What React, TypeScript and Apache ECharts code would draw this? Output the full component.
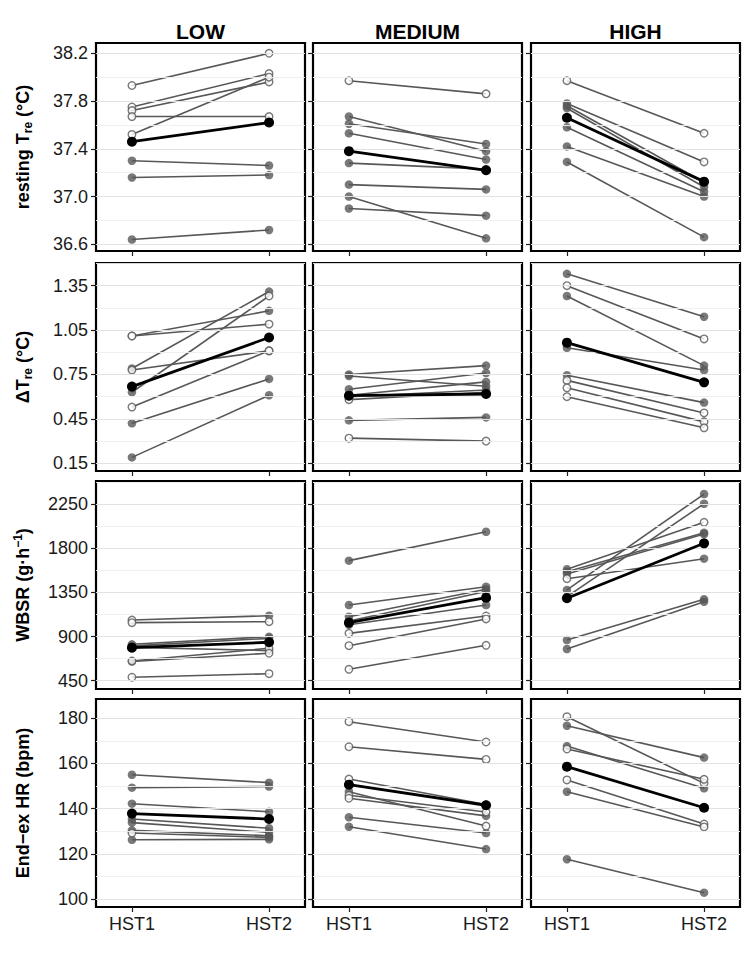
import React, { useEffect, useRef } from 'react';
import * as echarts from 'echarts';

// ---------------- data ----------------
const sessions = ['HST1', 'HST2'];
const intensities = ['LOW', 'MEDIUM', 'HIGH'];

// tick labels per row
const treTicks = [36.6, 37.0, 37.4, 37.8, 38.2];
const dTreTicks = [0.15, 0.45, 0.75, 1.05, 1.35];
const wbsrTicks = [450, 900, 1350, 1800, 2250];
const hrTicks = [100, 120, 140, 160, 180];

// resting Tre (°C)
const treLow1 = [37.93, 37.75, 37.72, 37.67, 37.52, 37.30, 37.16, 36.64];
const treLow2 = [38.20, 38.03, 37.96, 37.67, 38.00, 37.26, 37.18, 36.72];
const treLowOpen1 = [1, 1, 1, 1, 1, 0, 0, 0];
const treLowOpen2 = [1, 1, 1, 1, 1, 0, 0, 0];
const treMed1 = [37.97, 37.67, 37.61, 37.53, 37.28, 37.10, 37.00, 36.90];
const treMed2 = [37.86, 37.38, 37.44, 37.31, 37.23, 37.06, 36.65, 36.84];
const treMedOpen1 = [1, 0, 0, 0, 0, 0, 0, 0];
const treMedOpen2 = [1, 0, 0, 0, 0, 0, 0, 0];
const treHigh1 = [37.97, 37.78, 37.76, 37.74, 37.58, 37.42, 37.29];
const treHigh2 = [37.53, 37.29, 37.12, 37.08, 37.04, 37.00, 36.66];
const treHighOpen1 = [1, 0, 0, 0, 0, 0, 0];
const treHighOpen2 = [1, 1, 0, 0, 0, 0, 0];
const treMean = [[37.46, 37.62], [37.38, 37.22], [37.66, 37.125]];

// ΔTre (°C)
const dLow1 = [1.01, 1.01, 0.79, 0.78, 0.63, 0.53, 0.42, 0.19];
const dLow2 = [1.18, 1.09, 1.31, 0.91, 1.28, 0.91, 0.72, 0.61];
const dLowOpen1 = [1, 1, 0, 1, 0, 1, 0, 0];
const dLowOpen2 = [0, 1, 0, 1, 1, 1, 0, 0];
const dMed1 = [0.75, 0.74, 0.65, 0.61, 0.60, 0.58, 0.44, 0.32];
const dMed2 = [0.81, 0.67, 0.76, 0.70, 0.645, 0.63, 0.46, 0.30];
const dMedOpen1 = [0, 0, 0, 0, 0, 1, 0, 1];
const dMedOpen2 = [0, 0, 0, 0, 0, 0, 0, 1];
const dHigh1 = [1.43, 1.35, 1.28, 0.93, 0.745, 0.71, 0.66, 0.60];
const dHigh2 = [1.14, 0.99, 0.81, 0.78, 0.56, 0.49, 0.43, 0.39];
const dHighOpen1 = [0, 1, 0, 0, 0, 1, 1, 1];
const dHighOpen2 = [0, 1, 0, 0, 0, 1, 1, 1];
const dMean = [[0.668, 1.0], [0.607, 0.618], [0.965, 0.697]];

// WBSR (g·h-1)
const wLow1 = [1069, 1042, 821, 805, 790, 651, 645, 485];
const wLow2 = [1113, 1052, 899, 882, 757, 781, 730, 521];
const wLowOpen1 = [1, 1, 0, 0, 0, 1, 0, 1];
const wLowOpen2 = [0, 1, 0, 0, 0, 1, 1, 1];
const wMed1 = [1675, 1222, 1103, 1060, 1020, 933, 807, 566];
const wMed2 = [1970, 1409, 1383, 1360, 1222, 1110, 1080, 811];
const wMedOpen1 = [0, 0, 0, 0, 0, 1, 1, 1];
const wMedOpen2 = [0, 0, 0, 0, 0, 1, 1, 1];
const wHigh1 = [1587, 1562, 1539, 1491, 1376, 1307, 865, 773];
const wHigh2 = [2066, 1960, 1947, 1695, 2355, 2256, 1281, 1256];
const wHighOpen1 = [0, 0, 0, 1, 0, 0, 0, 0];
const wHighOpen2 = [1, 0, 0, 0, 0, 0, 0, 0];
const wMean = [[787, 842], [1042, 1297], [1291, 1852]];

// End-ex HR (bpm)
const hrLow1 = [155.0, 149.3, 142.2, 135.4, 133.8, 130.4, 129.2, 126.2];
const hrLow2 = [151.5, 149.8, 138.6, 131.3, 129.5, 128.0, 127.3, 126.4];
const hrLowOpen1 = [0, 0, 0, 0, 0, 0, 1, 0];
const hrLowOpen2 = [0, 0, 0, 0, 0, 0, 0, 0];
const hrMed1 = [178.5, 167.4, 153.1, 147.5, 145.9, 144.6, 136.2, 132.0];
const hrMed2 = [169.5, 161.8, 141.8, 132.3, 138.5, 136.8, 129.2, 122.1];
const hrMedOpen1 = [1, 1, 1, 0, 1, 1, 0, 0];
const hrMedOpen2 = [1, 1, 0, 1, 1, 0, 0, 0];
const hrHigh1 = [180.7, 176.7, 167.7, 166.4, 152.7, 147.5, 117.6];
const hrHigh2 = [151.2, 162.6, 149.0, 153.0, 133.2, 131.9, 102.8];
const hrHighOpen1 = [1, 0, 0, 1, 1, 0, 0];
const hrHighOpen2 = [1, 0, 0, 1, 1, 1, 0];
const hrMean = [[137.8, 135.4], [150.6, 141.5], [158.6, 140.4]];

// ---------------- layout / style ----------------
const FONT = '"Liberation Sans", Arial, Helvetica, sans-serif';
const colLeft = [96, 313, 531];
const rowTop = [43, 263, 481, 699];
const PW = 209;
const PH = 208;
const X_MIN = -0.262;
const X_MAX = 1.262;
const GREY = '#575757';

type Panel = { h1: number[]; h2: number[]; o1: number[]; o2: number[]; m: number[] };
type Row = { ticks: number[]; min: number; max: number; dec: number; name: string; panels: Panel[] };

const rows: Row[] = [
  {
    ticks: treTicks, min: 36.544, max: 38.286, dec: 1,
    name: '{b|resting T}{s|re}{b| (°C)}',
    panels: [
      { h1: treLow1, h2: treLow2, o1: treLowOpen1, o2: treLowOpen2, m: treMean[0] },
      { h1: treMed1, h2: treMed2, o1: treMedOpen1, o2: treMedOpen2, m: treMean[1] },
      { h1: treHigh1, h2: treHigh2, o1: treHighOpen1, o2: treHighOpen2, m: treMean[2] },
    ],
  },
  {
    ticks: dTreTicks, min: 0.098, max: 1.503, dec: 2,
    name: '{b|ΔT}{s|re}{b| (°C)}',
    panels: [
      { h1: dLow1, h2: dLow2, o1: dLowOpen1, o2: dLowOpen2, m: dMean[0] },
      { h1: dMed1, h2: dMed2, o1: dMedOpen1, o2: dMedOpen2, m: dMean[1] },
      { h1: dHigh1, h2: dHigh2, o1: dHighOpen1, o2: dHighOpen2, m: dMean[2] },
    ],
  },
  {
    ticks: wbsrTicks, min: 365, max: 2488, dec: 0,
    name: '{b|WBSR (g·h}{p|−1}{b|)}',
    panels: [
      { h1: wLow1, h2: wLow2, o1: wLowOpen1, o2: wLowOpen2, m: wMean[0] },
      { h1: wMed1, h2: wMed2, o1: wMedOpen1, o2: wMedOpen2, m: wMean[1] },
      { h1: wHigh1, h2: wHigh2, o1: wHighOpen1, o2: wHighOpen2, m: wMean[2] },
    ],
  },
  {
    ticks: hrTicks, min: 96.46, max: 188.54, dec: 0,
    name: '{b|End−ex HR (bpm)}',
    panels: [
      { h1: hrLow1, h2: hrLow2, o1: hrLowOpen1, o2: hrLowOpen2, m: hrMean[0] },
      { h1: hrMed1, h2: hrMed2, o1: hrMedOpen1, o2: hrMedOpen2, m: hrMean[1] },
      { h1: hrHigh1, h2: hrHigh2, o1: hrHighOpen1, o2: hrHighOpen2, m: hrMean[2] },
    ],
  },
];

function minorLines(ticks: number[], min: number, max: number): number[] {
  const step = ticks[1] - ticks[0];
  const out: number[] = [];
  const cand = [ticks[0] - step / 2, ...ticks.map((t) => t + step / 2)];
  cand.forEach((v) => {
    if (v > min && v < max) out.push(v);
  });
  return out;
}

function buildOption() {
  const grid: any[] = [];
  const xAxis: any[] = [];
  const yAxis: any[] = [];
  const series: any[] = [];

  const openStyle = { color: '#ffffff', borderColor: GREY, borderWidth: 1.4 };
  const filledStyle = { color: GREY, borderColor: GREY, borderWidth: 0 };

  rows.forEach((row, r) => {
    row.panels.forEach((p, c) => {
      const idx = r * 3 + c;
      grid.push({
        left: colLeft[c], top: rowTop[r], width: PW, height: PH,
        show: true, backgroundColor: '#ffffff', borderColor: '#000000', borderWidth: 2.2,
        containLabel: false, outerBoundsMode: 'none',
      });
      xAxis.push({
        type: 'value', gridIndex: idx, min: X_MIN, max: X_MAX, position: 'bottom',
        axisLine: { show: false, onZero: false },
        axisTick: { show: true, customValues: [0, 1], length: 5, lineStyle: { color: '#222', width: 1.2 } },
        axisLabel: {
          show: r === rows.length - 1, customValues: [0, 1], margin: 8,
          formatter: (v: number) => sessions[Math.round(v)] ?? '',
          fontSize: 18, color: '#1a1a1a', fontFamily: FONT,
        },
        splitLine: { show: false },
      });
      yAxis.push({
        type: 'value', gridIndex: idx, min: row.min, max: row.max, position: 'left',
        axisLine: { show: false, onZero: false },
        axisTick: { show: true, customValues: row.ticks, length: 5, lineStyle: { color: '#222', width: 1.2 } },
        axisLabel: {
          show: c === 0, customValues: row.ticks, margin: 8,
          formatter: (v: number) => v.toFixed(row.dec),
          fontSize: 18, color: '#1a1a1a', fontFamily: FONT,
        },
        splitLine: { show: false },
        name: c === 0 ? row.name : '',
        nameLocation: 'middle', nameRotate: 90, nameGap: 62, nameMoveOverlap: false,
        nameTextStyle: {
          fontFamily: FONT,
          rich: {
            b: { fontSize: 18, fontWeight: 'bold', color: '#000', lineHeight: 22, fontFamily: FONT },
            s: { fontSize: 12, fontWeight: 'bold', color: '#000', lineHeight: 11, verticalAlign: 'bottom', fontFamily: FONT },
            p: { fontSize: 12, fontWeight: 'bold', color: '#000', lineHeight: 10, verticalAlign: 'top', fontFamily: FONT },
          },
        },
      });
      // grid lines
      series.push({
        type: 'line', xAxisIndex: idx, yAxisIndex: idx, data: [], z: 1, silent: true,
        markLine: {
          silent: true, symbol: ['none', 'none'], label: { show: false }, animation: false,
          data: [
            ...row.ticks.map((v) => ({ yAxis: v, lineStyle: { color: '#e2e2e2', width: 1.2, type: 'solid' } })),
            ...minorLines(row.ticks, row.min, row.max).map((v) => ({ yAxis: v, lineStyle: { color: '#eeeeee', width: 0.9, type: 'solid' } })),
          ],
        },
      });
      // individual lines
      p.h1.forEach((v, k) => {
        series.push({
          type: 'line', xAxisIndex: idx, yAxisIndex: idx, silent: true, z: 3,
          symbol: 'none', showSymbol: false,
          data: [[0, v], [1, p.h2[k]]],
          lineStyle: { color: GREY, width: 1.6 },
        });
      });
      // individual points
      const pts: any[] = [];
      p.h1.forEach((v, k) => {
        const o = p.o1[k] === 1;
        pts.push({ value: [0, v], itemStyle: o ? openStyle : filledStyle, symbolSize: o ? 7.5 : 8.5 });
      });
      p.h2.forEach((v, k) => {
        const o = p.o2[k] === 1;
        pts.push({ value: [1, v], itemStyle: o ? openStyle : filledStyle, symbolSize: o ? 7.5 : 8.5 });
      });
      pts.sort((a, b) => (a.itemStyle === openStyle ? 1 : 0) - (b.itemStyle === openStyle ? 1 : 0));
      series.push({
        type: 'scatter', xAxisIndex: idx, yAxisIndex: idx, silent: true, z: 4,
        symbol: 'circle', data: pts,
      });
      // mean
      series.push({
        type: 'line', xAxisIndex: idx, yAxisIndex: idx, silent: true, z: 5,
        symbol: 'circle', symbolSize: 10, showSymbol: true,
        data: [[0, p.m[0]], [1, p.m[1]]],
        lineStyle: { color: '#000', width: 2.8 },
        itemStyle: { color: '#000' },
      });
    });
  });

  const graphic = intensities.map((t, c) => ({
    type: 'text', x: colLeft[c] + PW / 2, y: 31, silent: true,
    style: { text: t, fill: '#000', font: `bold 21px ${FONT}`, align: 'center', verticalAlign: 'middle' },
  }));

  return {
    animation: false,
    backgroundColor: '#ffffff',
    textStyle: { fontFamily: FONT },
    grid, xAxis, yAxis, series, graphic,
  };
}

export default function App() {
  const ref = useRef<HTMLDivElement>(null);
  useEffect(() => {
    if (!ref.current) return;
    const chart = echarts.init(ref.current, undefined, { renderer: 'svg' });
    chart.setOption(buildOption() as any);
    return () => chart.dispose();
  }, []);
  return (
    <div
      ref={ref}
      style={{ position: 'absolute', left: 0, top: 0, width: 749, height: 979, background: '#fff' }}
    />
  );
}
